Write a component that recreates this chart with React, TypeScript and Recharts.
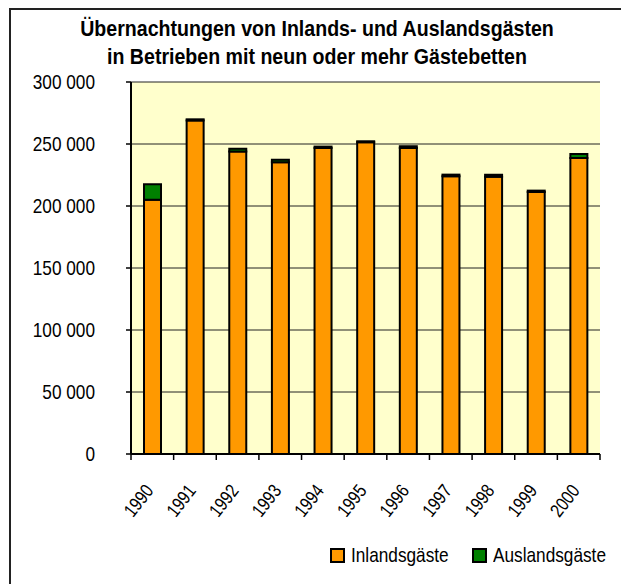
import { BarChart, Bar, XAxis, YAxis, CartesianGrid } from 'recharts';

const W = 621;
const H = 584;
// Arial Narrow ist nicht vorhanden: Liberation Sans horizontal gestaucht
const FONT = '"Liberation Sans", Arial, sans-serif';
const NARROW = 0.82;
const ORANGE = '#FF9900';
const GREEN = '#008000';
const PLOT_BG = '#FFFFCC';

// Werte (Übernachtungen)
const JAHRE = ['1990', '1991', '1992', '1993', '1994', '1995', '1996', '1997', '1998', '1999', '2000'];
const INLAND = [205000, 269000, 244000, 235300, 246800, 251400, 246800, 224000, 223600, 211300, 238700];
const AUSLAND = [12500, 900, 2200, 1900, 1100, 800, 1400, 1300, 1600, 1100, 3200];
const Y_TICKS = [0, 50000, 100000, 150000, 200000, 250000, 300000];

const TITEL = ['Übernachtungen von Inlands- und Auslandsgästen', 'in Betrieben mit neun oder mehr Gästebetten'];
const SERIEN = [
  { key: 'inland', label: 'Inlandsgäste', color: ORANGE },
  { key: 'ausland', label: 'Auslandsgäste', color: GREEN },
];

const M = { top: 82, right: 21, left: 71, bottom: 70 };
const Y_W = 60;
const X_H = 60;
const BAND = (W - M.left - M.right - Y_W) / JAHRE.length;

const rows = JAHRE.map((j, i) => ({ jahr: j, inland: INLAND[i], ausland: AUSLAND[i] }));

const tausender = (v: number) => String(v).replace(/\B(?=(\d{3})+(?!\d))/g, ' ');

function JahrTick({ x, y, payload, index }: any) {
  const last = index === JAHRE.length - 1;
  const tx = x + 2;
  const ty = y + 37;
  return (
    <g>
      <line x1={x - BAND / 2} x2={x - BAND / 2} y1={y} y2={y + 6} stroke="#000" strokeWidth={1.5} />
      {last && <line x1={x + BAND / 2} x2={x + BAND / 2} y1={y} y2={y + 6} stroke="#000" strokeWidth={1.5} />}
      <text
        textAnchor="end"
        transform={`translate(${tx}, ${ty}) rotate(-52) scale(${NARROW}, 1)`}
        fontSize={19}
        fontFamily={FONT}
        fill="#000"
      >
        {payload.value}
      </text>
    </g>
  );
}

function WertTick({ x, y, payload }: any) {
  return (
    <text
      textAnchor="end"
      dominantBaseline="central"
      transform={`translate(${x}, ${y}) scale(${NARROW}, 1)`}
      fontSize={21}
      fontFamily={FONT}
      fill="#000"
    >
      {tausender(payload.value)}
    </text>
  );
}

export default function App() {
  return (
    <div style={{ position: 'absolute', left: 0, top: 0, width: W, height: H, background: '#fff', fontFamily: FONT, overflow: 'hidden' }}>
      <div style={{ position: 'absolute', left: 9, top: 8, right: 0, bottom: 0, borderTop: '2px solid #222', borderLeft: '2px solid #222' }} />
      <div
        style={{
          position: 'absolute', left: 10, width: 614, top: 15, textAlign: 'center', fontWeight: 'bold',
          fontSize: 22, lineHeight: '28px', color: '#000', transform: 'scaleX(0.89)', transformOrigin: '307px 0',
        }}
      >
        {TITEL.map((t) => (
          <div key={t}>{t}</div>
        ))}
      </div>
      <div style={{ position: 'absolute', left: 0, top: 0 }}>
        <BarChart width={W} height={H} data={rows} margin={M} barSize={17}>
          <CartesianGrid vertical={false} stroke="#222" strokeWidth={1} fill={PLOT_BG} fillOpacity={1} />
          <XAxis
            dataKey="jahr"
            height={X_H}
            interval={0}
            axisLine={{ stroke: '#000', strokeWidth: 2 }}
            tickLine={false}
            tickSize={0}
            tickMargin={0}
            tick={<JahrTick />}
          />
          <XAxis xAxisId="oben" orientation="top" dataKey="jahr" height={0} tick={false} tickLine={false} axisLine={{ stroke: '#808080', strokeWidth: 2 }} />
          <YAxis
            domain={[0, 300000]}
            ticks={Y_TICKS}
            width={Y_W}
            interval={0}
            tickSize={5}
            tickMargin={31}
            tickLine={{ stroke: '#000', strokeWidth: 1.5 }}
            axisLine={{ stroke: '#000', strokeWidth: 2 }}
            tick={<WertTick />}
          />
          <YAxis yAxisId="rechts" orientation="right" domain={[0, 300000]} width={0} tick={false} tickLine={false} axisLine={{ stroke: '#808080', strokeWidth: 2 }} />
          <Bar dataKey="inland" stackId="a" fill={ORANGE} stroke="#000" strokeWidth={2} isAnimationActive={false} />
          <Bar dataKey="ausland" stackId="a" fill={GREEN} stroke="#000" strokeWidth={2} isAnimationActive={false} />
        </BarChart>
      </div>
      <div style={{ position: 'absolute', top: 543, left: 330, display: 'flex', alignItems: 'center', fontSize: 21, color: '#000' }}>
        {SERIEN.map((s, i) => (
          <div key={s.key} style={{ display: 'flex', alignItems: 'center', marginLeft: i ? 15 : 0 }}>
            <span style={{ width: 15, height: 15, boxSizing: 'border-box', border: '2px solid #000', background: s.color, marginRight: 6 }} />
            <span style={{ display: 'inline-block', transform: `scaleX(${NARROW})`, transformOrigin: '0 0', width: s.label.length * 8.8 }}>
              {s.label}
            </span>
          </div>
        ))}
      </div>
    </div>
  );
}
